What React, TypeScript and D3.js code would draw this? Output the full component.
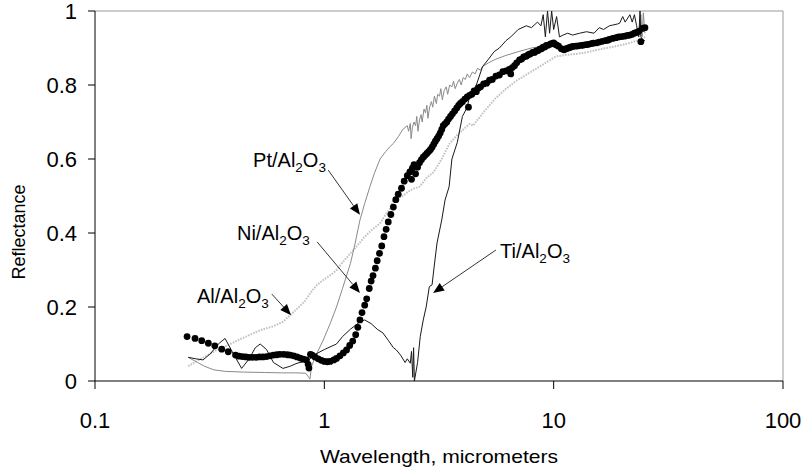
import * as d3 from "d3";

// wavelength (micrometers), reflectance
const niData: [number, number][] = [
  [0.252, 0.12], [0.273, 0.115], [0.292, 0.109], [0.312, 0.102], [0.333, 0.095], [0.357, 0.086],
  [0.381, 0.079], [0.41, 0.07], [0.425, 0.067], [0.44, 0.066], [0.455, 0.065],
  [0.47, 0.064], [0.487, 0.064], [0.504, 0.064], [0.522, 0.065], [0.54, 0.065], [0.56, 0.066],
  [0.58, 0.068], [0.6, 0.07], [0.62, 0.071], [0.64, 0.072], [0.665, 0.072], [0.69, 0.071],
  [0.71, 0.07], [0.735, 0.068], [0.76, 0.065], [0.785, 0.062], [0.81, 0.059], [0.835, 0.057],
  [0.85, 0.045], [0.857, 0.035], [0.87, 0.072], [0.885, 0.07], [0.91, 0.065], [0.94, 0.06],
  [0.97, 0.056], [1.0, 0.053], [1.03, 0.052], [1.06, 0.053], [1.1, 0.057], [1.13, 0.061],
  [1.17, 0.068], [1.21, 0.076], [1.25, 0.084], [1.29, 0.096], [1.33, 0.108], [1.37, 0.125],
  [1.4, 0.145], [1.43, 0.165], [1.46, 0.185], [1.5, 0.205], [1.53, 0.222], [1.57, 0.25],
  [1.6, 0.27], [1.63, 0.285], [1.67, 0.305], [1.7, 0.325], [1.74, 0.345], [1.78, 0.365],
  [1.82, 0.39], [1.86, 0.41], [1.9, 0.43], [1.95, 0.45], [2.0, 0.47], [2.05, 0.49],
  [2.1, 0.505], [2.17, 0.521], [2.23, 0.54], [2.3, 0.555], [2.36, 0.565], [2.4, 0.545],
  [2.42, 0.575], [2.46, 0.585], [2.5, 0.56], [2.55, 0.578], [2.6, 0.59], [2.65, 0.598],
  [2.7, 0.605], [2.75, 0.61], [2.8, 0.615], [2.85, 0.62], [2.9, 0.625], [2.95, 0.632],
  [3.0, 0.64], [3.05, 0.648], [3.1, 0.655], [3.15, 0.662], [3.2, 0.67], [3.25, 0.68],
  [3.3, 0.69], [3.36, 0.695], [3.42, 0.7], [3.48, 0.708], [3.55, 0.715], [3.62, 0.722],
  [3.7, 0.73], [3.78, 0.738], [3.85, 0.745], [3.92, 0.75], [4.0, 0.755], [4.1, 0.762],
  [4.2, 0.768], [4.25, 0.74], [4.3, 0.772], [4.4, 0.775], [4.5, 0.784], [4.6, 0.782],
  [4.7, 0.792], [4.8, 0.795], [4.95, 0.803], [5.1, 0.805], [5.25, 0.813], [5.4, 0.815],
  [5.6, 0.824], [5.8, 0.827], [6.0, 0.836], [6.2, 0.838], [6.4, 0.842], [6.5, 0.83],
  [6.6, 0.847], [6.75, 0.852], [6.9, 0.86], [7.1, 0.868], [7.25, 0.87], [7.4, 0.876],
  [7.6, 0.878], [7.75, 0.882], [7.9, 0.884], [8.1, 0.888], [8.25, 0.888], [8.4, 0.892],
  [8.55, 0.893], [8.7, 0.897], [8.85, 0.898], [9.0, 0.902], [9.15, 0.903], [9.3, 0.907],
  [9.5, 0.908], [9.7, 0.911], [9.85, 0.912], [10.0, 0.914], [10.15, 0.91], [10.3, 0.908],
  [10.5, 0.905], [10.8, 0.898], [11.1, 0.895], [11.35, 0.898], [11.6, 0.9], [11.85, 0.902],
  [12.1, 0.904], [12.5, 0.905], [12.8, 0.906], [13.2, 0.907], [13.5, 0.908], [13.85, 0.909],
  [14.2, 0.91], [14.6, 0.912], [14.9, 0.913], [15.4, 0.914], [15.8, 0.916], [16.3, 0.918],
  [16.8, 0.92], [17.2, 0.921], [17.5, 0.923], [18.1, 0.926], [18.7, 0.928], [19.2, 0.93],
  [19.8, 0.931], [20.4, 0.932], [21.0, 0.934], [21.5, 0.935], [22.0, 0.937], [22.5, 0.94],
  [23.0, 0.942], [23.5, 0.945], [24.0, 0.917], [24.4, 0.953], [25.0, 0.955],
];

const ptData: [number, number][] = [
  [0.255, 0.064], [0.28, 0.05], [0.3, 0.04], [0.33, 0.03], [0.37, 0.026], [0.45, 0.024],
  [0.55, 0.023], [0.65, 0.022], [0.75, 0.022], [0.83, 0.021], [0.85, 0.012], [0.865, 0.005],
  [0.88, 0.04], [0.92, 0.07], [0.99, 0.111], [1.06, 0.155], [1.13, 0.2], [1.2, 0.25],
  [1.3, 0.318], [1.36, 0.37], [1.43, 0.435], [1.5, 0.48], [1.58, 0.525], [1.65, 0.56],
  [1.75, 0.6], [1.85, 0.62], [1.93, 0.633], [2.0, 0.642], [2.1, 0.66], [2.2, 0.68],
  [2.3, 0.69], [2.33, 0.675], [2.37, 0.696], [2.39, 0.655], [2.42, 0.685], [2.46, 0.7],
  [2.5, 0.69], [2.53, 0.715], [2.56, 0.675], [2.6, 0.705], [2.64, 0.72], [2.67, 0.7],
  [2.72, 0.735], [2.76, 0.725], [2.8, 0.745], [2.83, 0.71], [2.88, 0.741], [2.93, 0.755],
  [2.97, 0.74], [3.02, 0.77], [3.08, 0.75], [3.12, 0.775], [3.18, 0.77], [3.22, 0.79],
  [3.27, 0.76], [3.33, 0.785], [3.4, 0.795], [3.45, 0.775], [3.52, 0.8], [3.6, 0.795],
  [3.66, 0.81], [3.72, 0.79], [3.8, 0.805], [3.88, 0.815], [3.95, 0.8], [4.03, 0.82],
  [4.12, 0.815], [4.2, 0.83], [4.3, 0.82], [4.42, 0.835], [4.55, 0.83], [4.65, 0.845],
  [4.8, 0.84], [4.9, 0.85], [5.2, 0.86], [5.6, 0.87], [6.2, 0.88], [7.0, 0.89],
  [8.0, 0.9], [9.0, 0.905], [10.0, 0.91], [11.0, 0.9], [12.0, 0.905], [14.0, 0.91],
  [16.0, 0.92], [18.0, 0.925], [20.0, 0.93], [22.0, 0.94], [23.5, 0.945], [24.0, 0.99],
  [24.3, 0.93], [24.6, 0.995], [25.0, 0.94],
];

const alData: [number, number][] = [
  [0.255, 0.04], [0.28, 0.055], [0.3, 0.065], [0.34, 0.084], [0.38, 0.097], [0.42, 0.11],
  [0.47, 0.124], [0.53, 0.138], [0.6, 0.148], [0.66, 0.16], [0.71, 0.178], [0.76, 0.195],
  [0.82, 0.215], [0.87, 0.238], [0.93, 0.26], [1.0, 0.275], [1.09, 0.291], [1.13, 0.3],
  [1.2, 0.32], [1.3, 0.345], [1.38, 0.363], [1.5, 0.39], [1.62, 0.41], [1.75, 0.426],
  [1.85, 0.45], [1.93, 0.465], [2.0, 0.489], [2.1, 0.495], [2.2, 0.5], [2.3, 0.51],
  [2.45, 0.52], [2.6, 0.525], [2.8, 0.55], [3.0, 0.565], [3.25, 0.6], [3.5, 0.64],
  [3.8, 0.665], [4.3, 0.695], [4.45, 0.69], [5.0, 0.73], [5.6, 0.765], [6.2, 0.79],
  [6.9, 0.812], [7.7, 0.83], [8.7, 0.85], [9.5, 0.865], [10.2, 0.877], [11.5, 0.882],
  [12.5, 0.884], [13.9, 0.888], [15.5, 0.895], [17.0, 0.9], [18.8, 0.905], [21.0, 0.912],
  [23.9, 0.922], [25.0, 0.93],
];

const tiData: [number, number][] = [
  [0.255, 0.064], [0.275, 0.06], [0.296, 0.057], [0.32, 0.075], [0.345, 0.1], [0.369, 0.115],
  [0.4, 0.075], [0.436, 0.034], [0.47, 0.06], [0.5, 0.09], [0.525, 0.1], [0.56, 0.085],
  [0.6, 0.05], [0.66, 0.034], [0.71, 0.04], [0.76, 0.048], [0.82, 0.053], [0.85, 0.055],
  [0.9, 0.07], [1.0, 0.085], [1.13, 0.1], [1.2, 0.12], [1.3, 0.14], [1.43, 0.16],
  [1.5, 0.165], [1.6, 0.155], [1.7, 0.14], [1.8, 0.13], [1.9, 0.11], [2.0, 0.09],
  [2.06, 0.084], [2.15, 0.07], [2.25, 0.05], [2.3, 0.06], [2.37, 0.048], [2.4, 0.08],
  [2.43, 0.01], [2.45, 0.09], [2.47, 0.0], [2.55, 0.05], [2.62, 0.12], [2.7, 0.165],
  [2.78, 0.2], [2.87, 0.255], [2.95, 0.26], [3.0, 0.3], [3.1, 0.373], [3.25, 0.435],
  [3.36, 0.489], [3.5, 0.525], [3.6, 0.6], [3.8, 0.645], [4.0, 0.715], [4.2, 0.74],
  [4.3, 0.77], [4.6, 0.8], [4.9, 0.85], [5.2, 0.87], [5.5, 0.89], [5.8, 0.9],
  [6.2, 0.92], [6.5, 0.93], [7.0, 0.95], [7.6, 0.96], [8.0, 0.955], [8.5, 0.97],
  [8.8, 0.96], [9.0, 0.99], [9.2, 0.93], [9.4, 1.0], [9.6, 0.94], [9.8, 1.0],
  [10.0, 0.95], [10.3, 0.985], [10.6, 0.93], [11.0, 0.935], [11.5, 0.94], [12.1, 0.935],
  [13.0, 0.94], [13.9, 0.944], [15.0, 0.94], [15.8, 0.955], [16.5, 0.95], [17.5, 0.96],
  [18.1, 0.962], [19.0, 0.965], [19.4, 0.967], [20.0, 0.985], [20.5, 0.97], [21.5, 0.99],
  [22.0, 0.97], [22.5, 0.99], [23.0, 0.96], [23.5, 0.93], [23.8, 1.0], [24.0, 0.93],
  [24.5, 0.92], [25.0, 0.92],
];

const xTicks = [0.1, 1, 10, 100];
const xTickLabels = ["0.1", "1", "10", "100"];
const yTicks = [0, 0.2, 0.4, 0.6, 0.8, 1];
const yTickLabels = ["0", "0.2", "0.4", "0.6", "0.8", "1"];

// label anchor, arrow start, arrow tip (all in data units)
const labels = [
  { metal: "Pt", at: [0.489, 0.578], from: [1.04, 0.57], to: [1.43, 0.449] },
  { metal: "Ni", at: [0.416, 0.381], from: [0.93, 0.376], to: [1.43, 0.238] },
  { metal: "Al", at: [0.2785, 0.211], from: [0.59, 0.235], to: [0.716, 0.178] },
  { metal: "Ti", at: [5.84, 0.332], from: [5.6, 0.354], to: [2.98, 0.238] },
];

const W = 806, H = 473;
const left = 95, right = 783, top = 11, bottom = 381;
const font = "'Liberation Sans', Arial, sans-serif";

const x = d3.scaleLog().domain([0.1, 100]).range([left, right]);
const y = d3.scaleLinear().domain([0, 1]).range([bottom, top]);

const line = d3.line<[number, number]>()
  .x(d => x(d[0]))
  .y(d => y(d[1]));

const Arrow = ({ from, to }: { from: number[]; to: number[] }) => {
  const x1 = x(from[0]), y1 = y(from[1]), x2 = x(to[0]), y2 = y(to[1]);
  const a = Math.atan2(y2 - y1, x2 - x1);
  const len = 11, half = 4.5;
  const bx = x2 - len * Math.cos(a), by = y2 - len * Math.sin(a);
  const p1 = [bx + half * Math.sin(a), by - half * Math.cos(a)];
  const p2 = [bx - half * Math.sin(a), by + half * Math.cos(a)];
  return (
    <g>
      <line x1={x1} y1={y1} x2={bx} y2={by} stroke="#000" strokeWidth={0.8} />
      <polygon points={`${x2},${y2} ${p1[0]},${p1[1]} ${p2[0]},${p2[1]}`} fill="#000" />
    </g>
  );
};

export default function App() {
  return (
    <svg width={W} height={H} style={{ position: "absolute", left: 0, top: 0, background: "#fff" }}
      fontFamily={font}>
      {/* frame */}
      <line x1={left} x2={right} y1={top} y2={top} stroke="#999" strokeWidth={1} />
      <line x1={right} x2={right} y1={top} y2={bottom} stroke="#999" strokeWidth={1} />

      <path d={line(alData) || ""} fill="none" stroke="#c2c2c2" strokeWidth={2} strokeDasharray="1.6 1.2" />
      <path d={line(ptData) || ""} fill="none" stroke="#8a8a8a" strokeWidth={1} />
      <path d={line(tiData) || ""} fill="none" stroke="#1a1a1a" strokeWidth={1} />
      {niData.map((d, i) => (
        <circle key={i} cx={x(d[0])} cy={y(d[1])} r={3.4} fill="#000" />
      ))}

      {/* axes */}
      <line x1={left} x2={left} y1={top} y2={bottom} stroke="#000" />
      <line x1={left} x2={right} y1={bottom} y2={bottom} stroke="#000" />
      {yTicks.map((t, i) => (
        <g key={t}>
          <line x1={left - 7} x2={left} y1={y(t)} y2={y(t)} stroke="#000" />
          <text x={left - 18} y={y(t)} dy="0.36em" textAnchor="end" fontSize={22}>{yTickLabels[i]}</text>
        </g>
      ))}
      {xTicks.map((t, i) => (
        <g key={t}>
          <line x1={x(t)} x2={x(t)} y1={bottom} y2={bottom + 8} stroke="#000" />
          <text x={x(t)} y={428} textAnchor="middle" fontSize={22}>{xTickLabels[i]}</text>
        </g>
      ))}
      <text x={(left + right) / 2} y={463} textAnchor="middle" fontSize={19}
        textLength={238} lengthAdjust="spacingAndGlyphs">Wavelength, micrometers</text>
      <text transform={`translate(25,232) rotate(-90)`} textAnchor="middle" fontSize={18}>Reflectance</text>

      {labels.map(l => (
        <g key={l.metal}>
          <Arrow from={l.from} to={l.to} />
          <text x={x(l.at[0])} y={y(l.at[1])} fontSize={20}>
            {l.metal}/Al<tspan fontSize={13.5} dy={5}>2</tspan><tspan fontSize={20} dy={-5}>O</tspan><tspan fontSize={13.5} dy={5}>3</tspan>
          </text>
        </g>
      ))}
    </svg>
  );
}
